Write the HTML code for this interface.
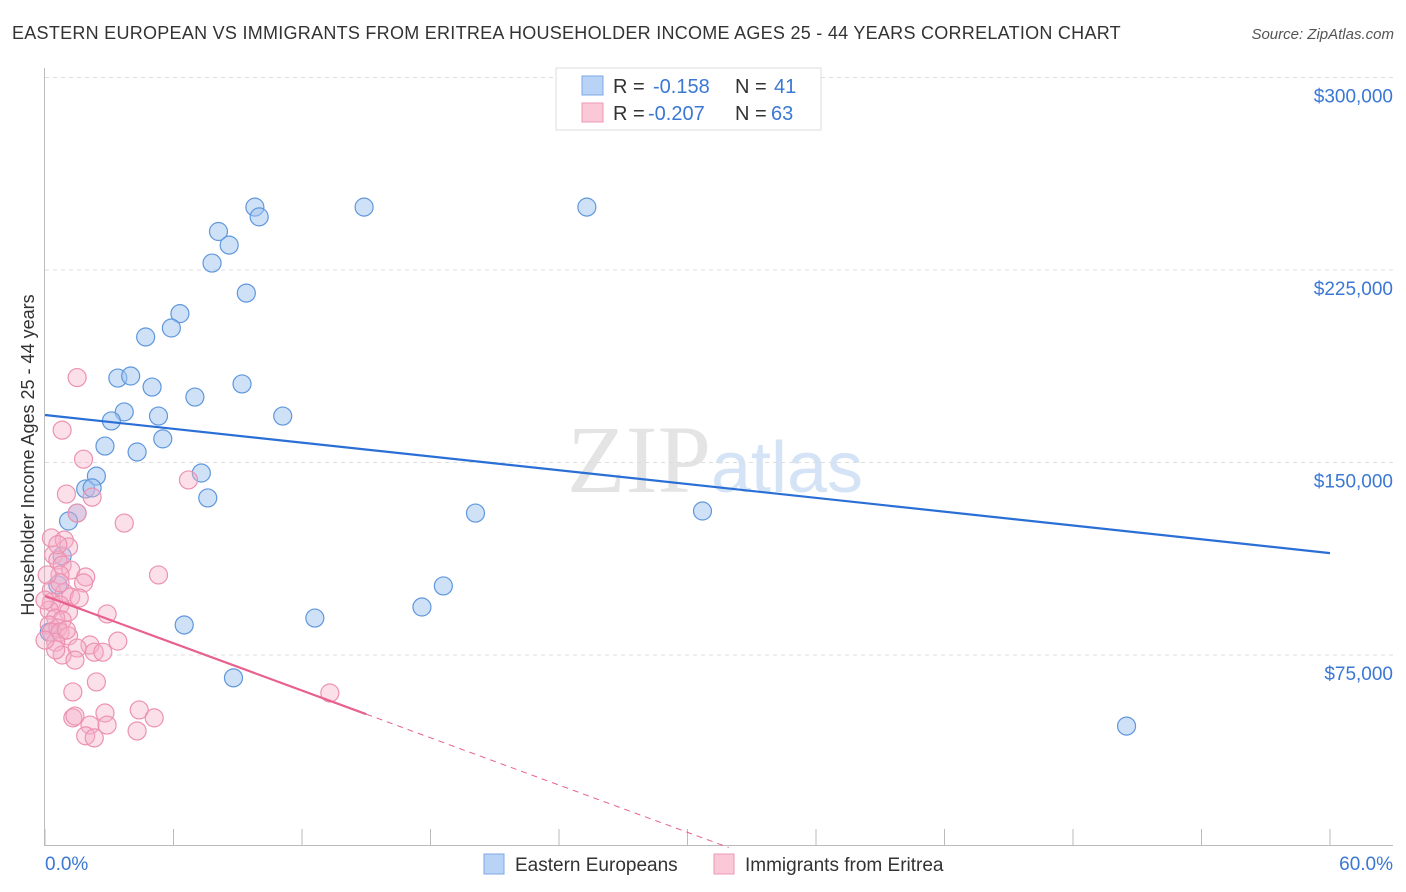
<!DOCTYPE html>
<html><head><meta charset="utf-8"><style>
body{margin:0;background:#fff;font-family:"Liberation Sans",sans-serif;}
svg{display:block}
</style></head><body>
<svg id="chart" width="1406" height="892" xmlns="http://www.w3.org/2000/svg">
<text x="12" y="39" font-size="18" letter-spacing="0.27" fill="#333">EASTERN EUROPEAN VS IMMIGRANTS FROM ERITREA HOUSEHOLDER INCOME AGES 25 - 44 YEARS CORRELATION CHART</text>
<text x="1394" y="39" font-size="15" fill="#555" text-anchor="end" font-style="italic">Source: ZipAtlas.com</text>
<text x="715" y="492" font-size="96" fill="#e4e4e4" text-anchor="middle" font-family="Liberation Serif,serif">ZIP<tspan fill="#d4e3f5" font-family="Liberation Sans,sans-serif" font-size="72">atlas</tspan></text>
<g id="grid"></g>
<g id="axes"></g>
<g id="pts"></g>
<text transform="translate(34,455) rotate(-90)" font-size="18" fill="#333" text-anchor="middle">Householder Income Ages 25 - 44 years</text>
<g>
<rect x="556" y="68" width="265" height="62" fill="#fff" stroke="#ddd"/>
<rect x="582" y="76" width="21" height="19" fill="#b8d3f5" stroke="#7eaae6"/>
<rect x="582" y="103" width="21" height="19" fill="#fbc8d8" stroke="#ee9ab5"/>
<text x="613" y="93" font-size="20" fill="#333">R = <tspan fill="#3a78d4" x="653">-0.158</tspan><tspan x="735" fill="#333">N =</tspan><tspan x="774" fill="#3a78d4">41</tspan></text>
<text x="613" y="120" font-size="20" fill="#333">R = <tspan fill="#3a78d4" x="648">-0.207</tspan><tspan x="735" fill="#333">N =</tspan><tspan x="771" fill="#3a78d4">63</tspan></text>
</g>
<g>
<rect x="484" y="854" width="20" height="20" fill="#b8d3f5" stroke="#7eaae6"/>
<text x="515" y="871" font-size="19" fill="#333">Eastern Europeans</text>
<rect x="714" y="854" width="20" height="20" fill="#fbc8d8" stroke="#ee9ab5"/>
<text x="745" y="871" font-size="19" fill="#333">Immigrants from Eritrea</text>
</g>
</svg>
<script>
const yTicks=[75000,150000,225000,300000];
const yTickLabels=["$75,000","$150,000","$225,000","$300,000"];
const xTickLabels=["0.0%","60.0%"];
const blueX=[9.8,10.0,14.9,25.3,8.1,8.6,7.8,9.4,6.3,5.9,4.7,3.4,4.0,5.0,9.2,7.0,3.7,5.3,11.1,3.1,5.5,2.8,4.3,2.4,7.3,1.9,2.2,7.6,1.5,1.1,20.1,30.7,0.8,18.6,0.6,17.6,6.5,12.6,0.2,8.8,50.5];
const blueY=[249500,245700,249500,249500,240000,234700,227700,216000,208000,202400,198900,182900,183700,179400,180600,175500,169700,168100,168100,166200,159200,156400,154100,144700,145900,139700,140100,136200,130300,127200,130300,131100,113600,101900,102300,93700,86700,89400,83900,66100,47300];
const pinkX=[1.5,0.8,1.8,1.0,2.2,6.7,1.5,3.7,0.3,0.9,1.1,0.4,0.6,0.8,1.2,0.7,1.9,5.3,1.8,0.3,0.9,1.2,0.3,0.7,0.2,1.1,2.9,0.5,0.8,0.2,0.6,0.3,0.7,1.1,3.4,2.1,0.5,1.5,2.3,0.8,1.3,2.4,13.3,1.3,1.4,2.8,4.4,5.1,2.1,2.9,1.9,2.3,4.3,0.7,1.6,0.1,0.5,1.0,1.4,2.7,0.6,0.0,0.0];
const pinkY=[183100,162600,151300,137700,136500,143200,130300,126400,120600,119800,117100,114000,112000,110000,108100,106200,105400,106200,103100,100300,99200,97600,95600,94500,92500,91800,91000,89400,88600,86700,85500,83900,83900,82400,80400,78900,80000,77700,76100,75000,60600,64500,60200,50500,51200,52400,53600,50500,47700,47700,43500,42700,45400,103100,97200,106200,77000,84700,73000,76100,118000,96400,80800];
const blueFit=[168500,114700];
const pinkFit=[98000,-3070];
const X=v=>45+v/60*1285, Y=v=>847.5-v/75000*192.5;
const NS="http://www.w3.org/2000/svg";
function mk(p,t,a){const e=document.createElementNS(NS,t);for(const k in a)e.setAttribute(k,a[k]);p.appendChild(e);return e;}
const grid=document.getElementById('grid'),axes=document.getElementById('axes'),pts=document.getElementById('pts');
yTicks.forEach((v,i)=>{
 const l=mk(grid,'line',{x1:45,x2:1393,y1:Y(v),y2:Y(v),stroke:'#ddd','stroke-dasharray':'4,4'});
 
 
 const t=mk(axes,'text',{x:1393,y:Y(v)+25,'font-size':19,fill:'#3a78d4','text-anchor':'end'});t.textContent=yTickLabels[i];
 
 
});
mk(axes,'line',{x1:44.5,x2:44.5,y1:68,y2:846,stroke:'#bbb'});
mk(axes,'line',{x1:45,x2:1393,y1:845.5,y2:845.5,stroke:'#bbb'});
for(let i=0;i<=10;i++){const tk=mk(axes,'line',{x1:X(i*6),x2:X(i*6),y1:829,y2:846,stroke:'#bbb'});
 
 }
[[0,45,'start'],[1,1393,'end']].forEach(([i,x,a])=>{const t=mk(axes,'text',{x:x,y:870,'font-size':19,fill:'#3a78d4','text-anchor':a});t.textContent=xTickLabels[i];
 
 });
blueX.forEach((x,i)=>{const c=mk(pts,'circle',{cx:X(x),cy:Y(blueY[i]),r:9,fill:'rgba(160,196,240,0.5)',stroke:'#5f97dc','stroke-width':1.2});
 
 });
pinkX.forEach((x,i)=>{const c=mk(pts,'circle',{cx:X(x),cy:Y(pinkY[i]),r:9,fill:'rgba(246,176,200,0.4)',stroke:'#ec92b0','stroke-width':1.2});
 
 });
const bl=mk(pts,'line',{x1:X(0),y1:Y(blueFit[0]),x2:X(60),y2:Y(blueFit[1]),stroke:'#2a6fd6','stroke-width':2.2});


const pe=15, pz=-pinkFit[0]/pinkFit[1];
const pl=mk(pts,'line',{x1:X(0),y1:Y(pinkFit[0]),x2:X(pe),y2:Y(pinkFit[0]+pinkFit[1]*pe),stroke:'#e8608e','stroke-width':2.2});


const pd=mk(pts,'line',{x1:X(pe),y1:Y(pinkFit[0]+pinkFit[1]*pe),x2:X(pz),y2:Y(0),stroke:'#e8608e','stroke-width':1,'stroke-dasharray':'6,5'});


</script>
</body></html>
